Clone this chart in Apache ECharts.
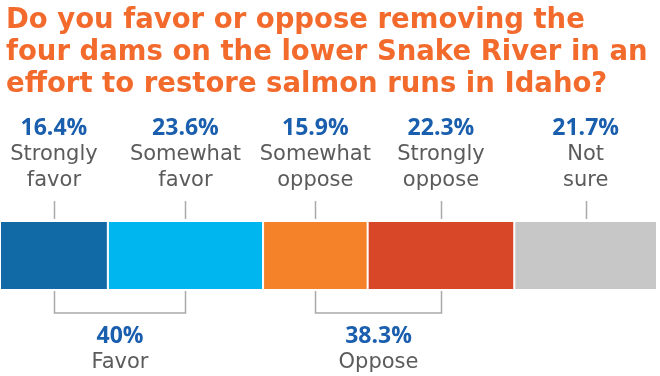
<!DOCTYPE html>
<html>
<head>
<meta charset="utf-8">
<script src="https://cdn.jsdelivr.net/npm/echarts@6/dist/echarts.min.js"></script>
<style>
html, body { margin: 0; padding: 0; background: #fff; }
#chart { width: 660px; height: 376px; }
</style>
</head>
<body>
<div id="chart"></div>
<script>
// answers, left to right
var categories = ['Strongly\nfavor', 'Somewhat\nfavor', 'Somewhat\noppose', 'Strongly\noppose', 'Not\nsure'];
var values = [16.4, 23.6, 15.9, 22.3, 21.7];
var colors = ['#1169a6', '#00b6ef', '#f58229', '#d84727', '#c7c7c7'];

// grouped totals under the bar
var groupNames = ['Favor', 'Oppose'];
var groupValues = [40, 38.3];
var groupMembers = [[0, 1], [2, 3]];

var titleText = 'Do you favor or oppose removing the\nfour dams on the lower Snake River in an\neffort to restore salmon runs in Idaho?';

var BLUE = '#1a5eae';
var GREY = '#5b5b5b';
var LINE = '#a9a9a9';
var FONT = 'DejaVu Sans';
var NUM_FONT = 'Open Sans';

var chart = echarts.init(document.getElementById('chart'));

//起点和中点
var starts = [];
var acc = 0;
for (var i = 0; i < values.length; i++) {
	starts.push(acc);
	acc += values[i];
}
var total = acc;
function mid(i) {
	return starts[i] + values[i] / 2;
}

var series = [];
for (var i = 0; i < values.length; i++) {
	series.push({
		name: categories[i],
		type: 'bar',
		stack: 'all',
		barWidth: '100%',
		data: [values[i]],
		itemStyle: { color: colors[i], borderColor: '#fff', borderWidth: 1 },
		label: {
			show: true,
			position: 'top',
			distance: 27,
			formatter: function (p) {
				var parts = p.seriesName.split('\n');
				return '{p|' + p.value.toFixed(1) + '%}\n{n|' + parts[0] + '}\n{n|' + parts[1] + '}';
			},
			rich: {
				p: { fontFamily: NUM_FONT, fontSize: 23, fontWeight: 'bold', color: BLUE, lineHeight: 28, align: 'center' },
				n: { fontFamily: FONT, fontSize: 21, color: GREY, lineHeight: 26, align: 'center' }
			}
		},
		emphasis: { disabled: true },
		silent: true
	});
}

// leader lines above each segment
var leaderData = [];
for (var i = 0; i < values.length; i++) {
	leaderData.push([mid(i), 0]);
}
series.push({
	type: 'custom',
	silent: true,
	data: leaderData,
	renderItem: function (params, api) {
		var p = api.coord([api.value(0), 0]);
		var h = api.size([0, 1])[1];
		var top = p[1] - h / 2;
		return {
			type: 'line',
			shape: { x1: Math.round(p[0]) + 0.5, y1: top - 20, x2: Math.round(p[0]) + 0.5, y2: top - 2 },
			style: { stroke: LINE, lineWidth: 1.5 }
		};
	}
});

// brackets below
var bracketData = [];
for (var g = 0; g < groupNames.length; g++) {
	bracketData.push([mid(groupMembers[g][0]), mid(groupMembers[g][1]), g]);
}
series.push({
	type: 'custom',
	silent: true,
	data: bracketData,
	renderItem: function (params, api) {
		var a = api.coord([api.value(0), 0]);
		var b = api.coord([api.value(1), 0]);
		var g = api.value(2);
		var h = api.size([0, 1])[1];
		var bottom = a[1] + h / 2;
		var x1 = Math.round(a[0]) + 0.5, x2 = Math.round(b[0]) + 0.5;
		var yb = bottom + 23;
		var xm = (x1 + x2) / 2;
		return {
			type: 'group',
			children: [{
				type: 'polyline',
				shape: { points: [[x1, bottom + 1], [x1, yb], [x2, yb], [x2, bottom + 1]] },
				style: { stroke: LINE, lineWidth: 1.5, fill: null }
			}, {
				type: 'text',
				style: {
					x: xm, y: yb + 23, text: groupValues[g] + '%',
					fontFamily: NUM_FONT, fontSize: 23, fontWeight: 'bold', fill: BLUE,
					align: 'center', verticalAlign: 'middle'
				}
			}, {
				type: 'text',
				style: {
					x: xm, y: yb + 50, text: groupNames[g],
					fontFamily: FONT, fontSize: 21, fill: GREY,
					align: 'center', verticalAlign: 'middle'
				}
			}]
		};
	}
});

var option = {
	animation: false,
	title: {
		text: titleText,
		left: 1,
		top: 0,
		textStyle: {
			fontFamily: 'DejaVu Sans',
			fontSize: 27.5,
			fontWeight: 'bold',
			color: '#f26a2c',
			lineHeight: 32
		}
	},
	grid: { left: 0, right: 3, top: 221, height: 69 },
	xAxis: { type: 'value', min: 0, max: total, show: false },
	yAxis: { type: 'category', data: ['all'], show: false },
	series: series
};

chart.setOption(option);
</script>
</body>
</html>
